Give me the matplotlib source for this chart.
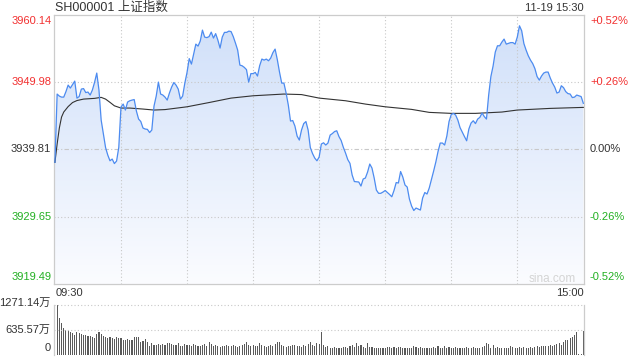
import matplotlib as mpl
mpl.use('Agg')
import matplotlib.pyplot as plt
from matplotlib.colors import LinearSegmentedColormap
from matplotlib.patches import Polygon
import numpy as np

plt.rcParams['font.family'] = ['Liberation Sans', 'Noto Sans CJK SC']

TITLE = 'SH000001 上证指数'
STAMP = '11-19 15:30'
PREV_CLOSE = 3939.81
PRICE_TICKS = [3960.14, 3949.98, 3939.81, 3929.65, 3919.49]
PCT_LABELS = ['+0.52%', '+0.26%', '0.00%', '-0.26%', '-0.52%']
TIME_LABELS = ['09:30', '15:00']
VOL_TICKS = [1271.14, 635.57, 0]
VOL_LABELS = ['1271.14万', '635.57万', '0']

# one value per minute, 09:30-11:30 then 13:01-15:00
price = [
    3937.87, 3948.16, 3947.85, 3947.70, 3947.70, 3948.53, 3949.51, 3949.06, 3949.59, 3950.11,
    3947.55, 3947.78, 3948.91, 3948.98, 3948.38, 3948.46, 3948.01, 3948.76, 3949.92, 3951.32,
    3948.76, 3944.24, 3942.13, 3940.10, 3938.97, 3938.11, 3938.37, 3937.69, 3938.07, 3940.13,
    3946.20, 3946.65, 3945.75, 3946.95, 3947.15, 3947.25, 3947.33, 3945.60, 3944.39, 3944.02,
    3943.04, 3942.89, 3942.84, 3942.36, 3942.74, 3946.35, 3947.85, 3949.96, 3948.16, 3948.01,
    3947.70, 3947.25, 3948.31, 3949.21, 3949.89, 3949.51, 3948.91, 3947.40, 3947.85, 3949.81,
    3951.42, 3953.50, 3952.67, 3954.18, 3955.68, 3955.38, 3956.14, 3957.79, 3956.74, 3956.66,
    3956.81, 3957.49, 3956.59, 3957.26, 3956.29, 3955.08, 3956.74, 3957.45, 3957.45, 3957.64,
    3957.57, 3956.81, 3955.83, 3954.78, 3952.52, 3952.42, 3952.18, 3951.84, 3949.96, 3951.24,
    3951.24, 3951.42, 3950.87, 3952.45, 3953.43, 3953.27, 3953.43, 3953.17, 3953.58, 3954.40,
    3954.93, 3953.35, 3951.47, 3949.81, 3949.81, 3948.31, 3946.50, 3944.09, 3944.17, 3943.34,
    3941.83, 3941.23, 3942.74, 3943.71, 3944.02, 3942.74, 3940.10, 3939.20, 3938.52, 3938.11,
    3938.67,
    3940.63, 3940.82, 3940.48, 3940.78, 3941.98, 3942.21, 3942.51, 3942.63, 3941.76, 3941.16,
    3940.13, 3939.27, 3938.29, 3937.72, 3935.96, 3934.98, 3934.95, 3934.91, 3934.30, 3935.36,
    3935.51, 3936.41, 3937.62, 3937.01, 3935.51, 3933.70, 3933.21, 3933.21, 3933.40, 3933.63,
    3933.33, 3933.03, 3932.69, 3933.63, 3934.83, 3934.76, 3936.49, 3935.66, 3934.46, 3934.15,
    3932.35, 3931.29, 3930.62, 3930.99, 3930.84, 3930.69, 3932.50, 3933.33, 3933.10, 3934.00,
    3935.28, 3936.56, 3937.92, 3939.50, 3940.78, 3940.78, 3940.48, 3941.83, 3944.02, 3945.07,
    3945.25, 3944.99, 3944.24, 3943.11, 3942.43, 3941.76, 3941.12, 3942.89, 3943.79, 3944.14,
    3943.71, 3944.39, 3944.65, 3945.30, 3944.77, 3944.39, 3948.01, 3950.79, 3952.37, 3954.48,
    3955.43, 3955.43, 3955.99, 3956.44, 3955.68, 3955.79, 3955.91, 3955.91, 3955.68, 3956.74,
    3958.44, 3957.69, 3955.76, 3954.78, 3953.92, 3953.27, 3952.75, 3951.99, 3950.79, 3950.26,
    3950.87, 3951.32, 3951.47, 3951.47, 3950.56, 3949.81, 3949.21, 3948.31, 3948.46, 3949.41,
    3949.13, 3948.53, 3948.23, 3948.16, 3947.63, 3947.70, 3948.01, 3947.90, 3947.78, 3946.76,
]

# average price line, read at these minutes
avg_minute = [0, 1, 2, 3, 4, 6, 8, 10, 13, 18, 21, 23, 25, 27, 30, 34, 40, 45, 50, 60,
              70, 80, 90, 104, 112, 120, 132, 141, 150, 162, 170, 180, 191, 203, 210, 225, 240]
avg_price = [3937.87, 3940.63, 3943.04, 3944.69, 3945.45, 3946.27, 3946.88, 3947.18, 3947.40,
             3947.51, 3947.66, 3947.40, 3946.91, 3946.39, 3946.05, 3946.05, 3945.90, 3945.75,
             3945.82, 3946.24, 3946.88, 3947.55, 3947.90, 3948.16, 3948.08, 3947.55, 3947.15,
             3946.65, 3946.24, 3945.85, 3945.40, 3945.25, 3945.25, 3945.45, 3945.75, 3946.00,
             3946.15]

# volume per minute, in 万
volume = [
    381, 1271, 932, 805, 678, 636, 636, 593, 551, 508,
    593, 551, 525, 508, 508, 483, 491, 466, 441, 525,
    576, 542, 491, 466, 441, 466, 441, 407, 466, 424,
    441, 381, 381, 407, 381, 381, 466, 449, 449, 339,
    356, 407, 322, 237, 297, 254, 254, 271, 254, 271,
    254, 297, 297, 271, 254, 254, 297, 237, 237, 271,
    254, 254, 237, 271, 254, 237, 237, 254, 271, 237,
    339, 271, 237, 254, 237, 212, 237, 237, 254, 220,
    237, 254, 220, 212, 237, 254, 271, 322, 254, 237,
    254, 237, 220, 297, 254, 237, 212, 220, 254, 237,
    271, 322, 339, 254, 237, 212, 220, 237, 254, 254,
    237, 220, 212, 254, 237, 271, 322, 254, 237, 297, 271,
    593,
    254, 212, 237, 186, 169, 212, 186, 186, 186, 212,
    212, 169, 237, 254, 212, 297, 237, 254, 212, 186,
    297, 212, 212, 169, 169, 186, 186, 169, 186, 212,
    212, 186, 212, 169, 212, 212, 186, 169, 169, 186,
    186, 237, 212, 186, 212, 169, 186, 186, 186, 169,
    212, 169, 237, 186, 169, 237, 186, 212, 169, 186,
    212, 186, 169, 186, 186, 212, 186, 186, 212, 186,
    169, 186, 212, 237, 297, 271, 186, 254, 186, 212,
    169, 186, 186, 169, 186, 237, 212, 186, 186, 212,
    186, 212, 186, 186, 212, 186, 212, 237, 212, 237,
    237, 237, 237, 254, 237, 254, 271, 297, 254, 339,
    381, 381, 424, 466, 508, 593, 25, 25, 610,
]

LINE_BLUE = '#4c8bf0'
RED = '#f23030'
GREEN = '#22b022'
GRID = '#c8c8c8'
TXT = '#333333'


def draw_price(ax):
    x = np.arange(len(price))
    lo, hi = PRICE_TICKS[-1], PRICE_TICKS[0]
    ax.set_xlim(-0.3, 240.3)
    ax.set_ylim(lo, hi)

    # gradient under the curve
    cmap = LinearSegmentedColormap.from_list('fade', ['#cfdff9', '#fbfcff'])
    grad = np.linspace(0, 1, 256).reshape(-1, 1)
    im = ax.imshow(grad, extent=[-0.3, 240.3, lo, hi], aspect='auto', origin='upper',
                   cmap=cmap, zorder=1, interpolation='bilinear')
    verts = np.column_stack([np.r_[x, x[::-1]], np.r_[price, np.full(len(x), lo)]])
    clip = Polygon(verts, closed=True, facecolor='none', edgecolor='none')
    ax.add_patch(clip)
    im.set_clip_path(clip)

    ax.plot(x, price, color=LINE_BLUE, lw=0.9, zorder=4)
    ax.plot(avg_minute, avg_price, color='#333333', lw=0.8, zorder=3)

    for v in PRICE_TICKS[1:-1]:
        ls = (0, (4, 2, 1, 2)) if v == PREV_CLOSE else (0, (1, 2))
        ax.axhline(v, color=GRID, lw=0.8, ls=ls, zorder=2)
    for m in range(30, 240, 30):
        ax.axvline(m, color=GRID, lw=0.8, ls=(0, (1, 2)), zorder=2)

    ax.set_xticks([])
    ax.set_yticks([])
    for s in ax.spines.values():
        s.set_color('#cccccc')
        s.set_linewidth(0.9)

    offs = [-6, 0, 0, 0, 7]
    for v, pct, dy in zip(PRICE_TICKS, PCT_LABELS, offs):
        col = RED if v > PREV_CLOSE else (GREEN if v < PREV_CLOSE else TXT)
        ax.annotate(f'{v:.2f}', xy=(0, v), xycoords=('axes fraction', 'data'),
                    xytext=(-3, dy), textcoords='offset pixels',
                    ha='right', va='center', fontsize=8, color=col)
        ax.annotate(pct, xy=(1, v), xycoords=('axes fraction', 'data'),
                    xytext=(6, dy), textcoords='offset pixels',
                    ha='left', va='center', fontsize=8, color=col)

    ax.text(0.002, -0.032, TIME_LABELS[0], transform=ax.transAxes,
            ha='left', va='center', fontsize=8, color=TXT)
    ax.text(1.0, -0.032, TIME_LABELS[1], transform=ax.transAxes,
            ha='right', va='center', fontsize=8, color=TXT)
    ax.text(0.94, 0.02, 'sina.com', transform=ax.transAxes,
            ha='center', va='center', fontsize=8.5, color='#d4d4d4')


def draw_volume(ax):
    x = np.arange(len(volume))
    ax.bar(x, volume, width=0.5, color='#5a5a5a', linewidth=0)
    ax.set_xlim(-0.3, 240.3)
    ax.set_ylim(0, VOL_TICKS[0])
    for v in VOL_TICKS[:2]:
        ax.axhline(v, color=GRID, lw=0.8, ls=(0, (1, 2)), clip_on=False)
    ax.set_xticks([])
    ax.set_yticks([])
    ax.spines['top'].set_visible(False)
    ax.spines['bottom'].set_visible(False)
    for k in ('left', 'right'):
        ax.spines[k].set_color('#cccccc')
        ax.spines[k].set_linewidth(0.9)
    for v, lab, dy in zip(VOL_TICKS, VOL_LABELS, [2, 0, 7]):
        ax.annotate(lab, xy=(0, v), xycoords=('axes fraction', 'data'),
                    xytext=(-4, dy), textcoords='offset pixels',
                    ha='right', va='center', fontsize=8, color=TXT)


def main():
    fig = plt.figure(figsize=(6.4, 3.6), dpi=100)
    ax = fig.add_axes([0.0848, 0.21, 0.8277, 0.7497])
    vax = fig.add_axes([0.0848, 0.0139, 0.8277, 0.1389])
    draw_price(ax)
    draw_volume(vax)
    fig.text(55 / 640, 1 - 7.5 / 360, TITLE, ha='left', va='center', fontsize=9, color=TXT)
    fig.text(584 / 640, 1 - 8 / 360, STAMP, ha='right', va='center', fontsize=8, color=TXT)
    fig.savefig('out.png', dpi=100)


if __name__ == '__main__': main()
